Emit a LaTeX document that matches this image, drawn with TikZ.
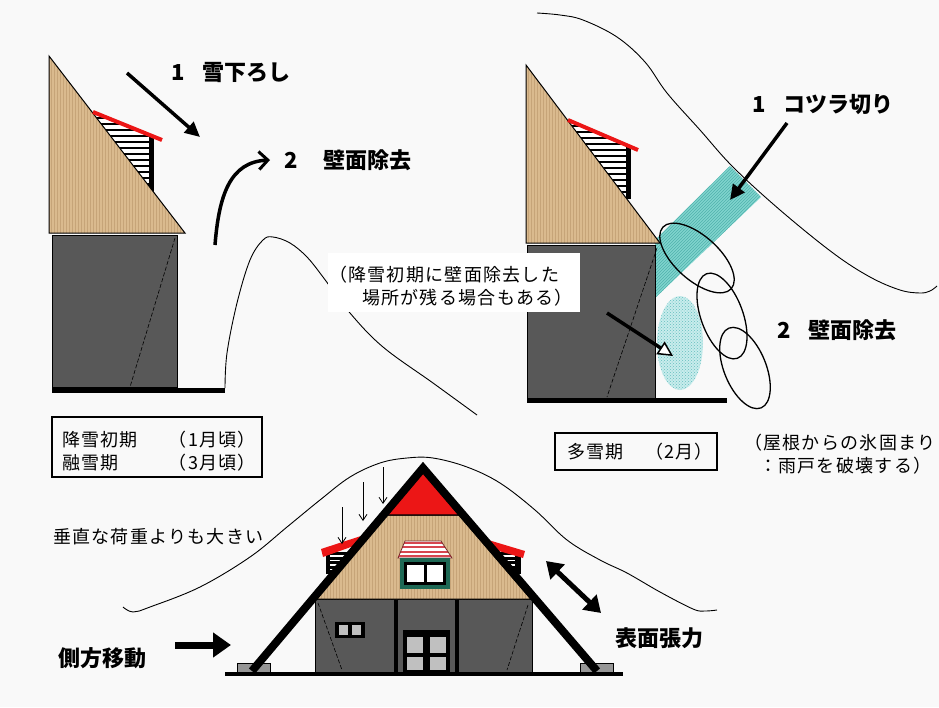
\documentclass[tikz,border=0pt]{standalone}
\usepackage{fontspec}
\setmainfont{Noto Sans CJK JP}
\usetikzlibrary{arrows.meta,patterns}

\definecolor{paper}{RGB}{249,249,249}
\definecolor{thatch}{RGB}{218,186,142}
\definecolor{thatchline}{RGB}{198,164,120}
\definecolor{wallgray}{RGB}{88,88,88}
\definecolor{roofred}{RGB}{236,22,22}
\definecolor{iceband}{RGB}{128,212,206}
\definecolor{icebandline}{RGB}{80,178,172}
\definecolor{stipple}{RGB}{200,236,236}
\definecolor{stippledot}{RGB}{100,190,190}
\definecolor{footgray}{RGB}{150,150,150}
\definecolor{panegray}{RGB}{192,192,192}
\definecolor{framegreen}{RGB}{30,105,85}
\definecolor{awningred}{RGB}{214,70,80}
\definecolor{awningedge}{RGB}{120,40,40}

\begin{document}
\begin{tikzpicture}[x=1pt,y=-1pt,
  thatchroof/.style={draw=black, line width=1pt, preaction={fill=thatch},
    pattern=vertical lines, pattern color=thatchline},
  wall/.style={fill=wallgray, draw=black, line width=1pt},
  ground/.style={line width=5pt},
  snow/.style={line width=0.9pt},
  bigarrow/.style={line width=3.5pt, -{Triangle[length=15pt,width=14pt]}},
  legendbox/.style={draw=black, line width=1.2pt, fill=paper, inner sep=0pt},
  lbl/.style={inner sep=0pt, font=\fontsize{22}{26}\selectfont\bfseries, anchor=west},
  txt/.style={inner sep=0pt, font=\fontsize{18}{22}\selectfont\addfontfeature{LetterSpace=7}, anchor=west},
  chunk/.style={draw=black, line width=1.3pt},
  loadarrow/.style={line width=0.8pt, -{Straight Barb[length=6pt,width=8pt]}},
  dashedline/.style={dashed, line width=0.6pt, dash pattern=on 4pt off 2pt}
]
\useasboundingbox (0,0) rectangle (939,707);
\fill[paper] (0,0) rectangle (939,707);

% ================= early / thaw season house (top left) =================
\draw[snow] plot[smooth, tension=0.6] coordinates {(225,388) (227,353) (237,303) (250,260) (263,240) (273,237) (290,243) (307,257) (323,277) (350,313) (383,347) (433,383) (477,415)};

\draw[wall] (52,235) rectangle (177,387);
\draw[dashedline] (175,238) -- (130,387);
\begin{scope}
  \clip (93,113) -- (151,137) -- (151,190) -- cycle;
  \fill[white] (90,110) rectangle (155,195);
  \foreach \yy in {118,124,...,192} \draw[line width=2.6pt] (90,\yy) -- (155,\yy);
\end{scope}
\draw[line width=5pt] (151,136) -- (151,193);
\draw[thatchroof] (49,56) -- (185,233) -- (49,233) -- cycle;
\draw[roofred, line width=4pt] (93,112) -- (162,140);
\draw[ground] (52,390) -- (225,390);

\coordinate (sa1) at (127,73);
\coordinate (ea1) at (200,137);
\draw[bigarrow] (sa1) -- (ea1);
\node[lbl] (lab1) at (171,73) {1\hspace{0.8em}雪下ろし};

\coordinate (sa2) at (215,245);
\coordinate (ea2) at (270,160);
\draw[line width=3.5pt, -{Straight Barb[length=9pt,width=18pt,line width=3pt]}]
  (sa2) .. controls (219,195) and (230,162) .. (ea2);
\node[lbl] (lab2) at (284,160) {2\hspace{1.2em}壁面除去};

\node[legendbox, minimum width=210pt, minimum height=60pt] (legA) at (157,447) {};
\node[txt] (legA1) at (62,440) {降雪初期};
\node[txt, anchor=east] (legA2) at (256,440) {（1月頃）};
\node[txt] (legA3) at (62,463) {融雪期};
\node[txt, anchor=east] (legA4) at (256,463) {（3月頃）};

% ================= heavy snow season house (top right) =================
\draw[snow] plot[smooth, tension=0.6] coordinates {(537,13) (560,15) (583,20) (617,37) (645,62) (667,93) (700,130) (733,167) (780,210) (833,253) (870,277) (900,290) (920,293) (930,291) (937,286)};

\path[preaction={fill=iceband}, pattern=north east lines, pattern color=icebandline]
  (655,240) -- (730,166) -- (761,197) -- (655,298) -- cycle;
\path[preaction={fill=stipple}, pattern=crosshatch dots, pattern color=stippledot]
  (680,343) ellipse [x radius=23, y radius=47];

\draw[wall] (527,245) rectangle (655,398);
\draw[dashedline] (657,248) -- (607,397);
\begin{scope}
  \clip (568,121) -- (628,146) -- (628,200) -- cycle;
  \fill[white] (560,115) rectangle (632,205);
  \foreach \yy in {126,132,...,204} \draw[line width=2.6pt] (560,\yy) -- (632,\yy);
\end{scope}
\draw[line width=5pt] (628,145) -- (628,199);
\draw[thatchroof] (526,65) -- (660,243) -- (526,243) -- cycle;
\draw[roofred, line width=4pt] (568,120) -- (638,150);
\draw[ground] (527,400) -- (727,400);

\draw[chunk, rotate around={-42:(697,258)}] (697,258) ellipse [x radius=46, y radius=22];
\draw[chunk, rotate around={-70:(722,316)}] (722,316) ellipse [x radius=45, y radius=21];
\draw[chunk, rotate around={-68:(745,368)}] (745,368) ellipse [x radius=43, y radius=21];

\node[fill=white, inner sep=0pt, minimum width=252pt, minimum height=59pt] (note) at (454,282.5) {};
\node[txt] (note1) at (329,275) {（降雪初期に壁面除去した};
\node[txt] (note2) at (362,298) {場所が残る場合もある）};

\coordinate (sa4) at (607,313);
\coordinate (ea4) at (673,356);
\draw[line width=3.5pt, -{Triangle[open, length=15pt, width=15pt, line width=1.5pt, fill=white]}] (sa4) -- (ea4);

\coordinate (sa3) at (787,123);
\coordinate (ea3) at (730,200);
\draw[bigarrow] (sa3) -- (ea3);
\node[lbl] (lab3) at (752,105) {1\hspace{0.8em}コツラ切り};
\node[lbl] (lab4) at (777,330) {2\hspace{0.8em}壁面除去};

\node[legendbox, minimum width=162pt, minimum height=37pt] (legB) at (636,451.5) {};
\node[txt] (legB1) at (567,452) {多雪期};
\node[txt, anchor=east] (legB2) at (713,452) {（2月）};

\node[txt] (ice1) at (744,443) {（屋根からの氷固まり};
\node[txt] (ice2) at (759,466) {：雨戸を破壊する）};

% ================= gassho house, snow pressure (bottom) =================
\draw[snow] plot[smooth, tension=0.6] coordinates {(123,607) (133,612) (150,607) (200,587) (250,557) (287,527) (320,500) (350,477) (380,463) (407,458) (433,458) (467,467) (500,483) (535,510) (567,540) (600,560) (627,573) (660,592) (693,609) (705,611) (717,610)};

\node[txt] (heavy) at (53,537) {垂直な荷重よりも大きい};

% footings
\draw[fill=footgray, line width=0.6pt] (237,663) rectangle (270,673);
\draw[fill=footgray, line width=0.6pt] (580,663) rectangle (613,673);

% body
\draw[wall] (315,599) rectangle (532,672);
\draw[dashedline] (318,603) -- (342,670);
\draw[dashedline] (528,605) -- (507,670);
\draw[line width=4pt] (396,599) -- (396,672);
\draw[line width=4pt] (457,599) -- (457,672);
\fill[black] (335,622) rectangle (365,638);
\fill[panegray] (339,625) rectangle (348,635);
\fill[panegray] (352,625) rectangle (361,635);
\fill[black] (403,630) rectangle (450,672);
\fill[panegray] (407,637) rectangle (423,653);
\fill[panegray] (430,637) rectangle (446,653);
\fill[panegray] (407,657) rectangle (423,670);
\fill[panegray] (430,657) rectangle (446,670);

% side dormers
\begin{scope}
  \clip (326,552) rectangle (358,574);
  \fill[black] (326,552) rectangle (358,574);
  \foreach \yy in {556,560.5,...,572} \draw[white, line width=1.3pt] (330,\yy) -- (350,\yy);
\end{scope}
\fill[roofred] (321,549) -- (361,536) -- (362,543) -- (323,557) -- cycle;
\begin{scope}
  \clip (494,552) rectangle (521,574);
  \fill[black] (494,552) rectangle (521,574);
  \foreach \yy in {556,560.5,...,572} \draw[white, line width=1.3pt] (497,\yy) -- (515,\yy);
\end{scope}
\fill[roofred] (485,539) -- (525,551) -- (523,558) -- (492,549) -- cycle;

% thatched gable and ridge
\draw[thatchroof] (385,515) -- (459,515) -- (531,599) -- (315,599) -- cycle;
\draw[fill=roofred, draw=black, line width=1.2pt] (423,472) -- (459,515) -- (385,515) -- cycle;

% gable dormer window
\begin{scope}
  \clip (405,541) -- (441,541) -- (452,558) -- (398,558) -- cycle;
  \fill[white] (396,540) rectangle (454,560);
  \foreach \yy in {542.5,547,...,558} \draw[awningred, line width=2pt] (396,\yy) -- (454,\yy);
\end{scope}
\draw[awningedge, line width=0.8pt] (405,541) -- (441,541) -- (452,558) -- (398,558) -- cycle;
\fill[framegreen] (400,558) rectangle (450,589);
\fill[black] (404,562) rectangle (446,585);
\fill[white] (407,565) rectangle (424,582);
\fill[white] (427,565) rectangle (443,582);

% A-frame rafters
\coordinate (footL) at (252,671);
\coordinate (apex) at (423,468);
\coordinate (footR) at (597,671);
\draw[line width=8pt, line join=miter] (footL) -- (apex) -- (footR);
\draw[line width=4.5pt] (225,674) -- (623,674);

% snow load arrows
\coordinate (ld1s) at (342,507); \coordinate (ld1e) at (342,544);
\coordinate (ld2s) at (363,482); \coordinate (ld2e) at (363,521);
\coordinate (ld3s) at (383,467); \coordinate (ld3e) at (383,504);
\draw[loadarrow] (ld1s) -- (ld1e);
\draw[loadarrow] (ld2s) -- (ld2e);
\draw[loadarrow] (ld3s) -- (ld3e);

% lateral movement and surface tension
\coordinate (lats) at (175,645);
\coordinate (late) at (231,645);
\draw[line width=7pt, -{Triangle[length=18pt,width=24pt]}] (lats) -- (late);
\node[lbl, anchor=center] (lateral) at (102,658) {側方移動};

\coordinate (tens1) at (546,561);
\coordinate (tens2) at (601,613);
\draw[line width=5pt, {Triangle[length=16pt,width=20pt]}-{Triangle[length=16pt,width=20pt]}] (tens1) -- (tens2);
\node[lbl, anchor=center] (tension) at (659,638) {表面張力};

\end{tikzpicture}
\end{document}
